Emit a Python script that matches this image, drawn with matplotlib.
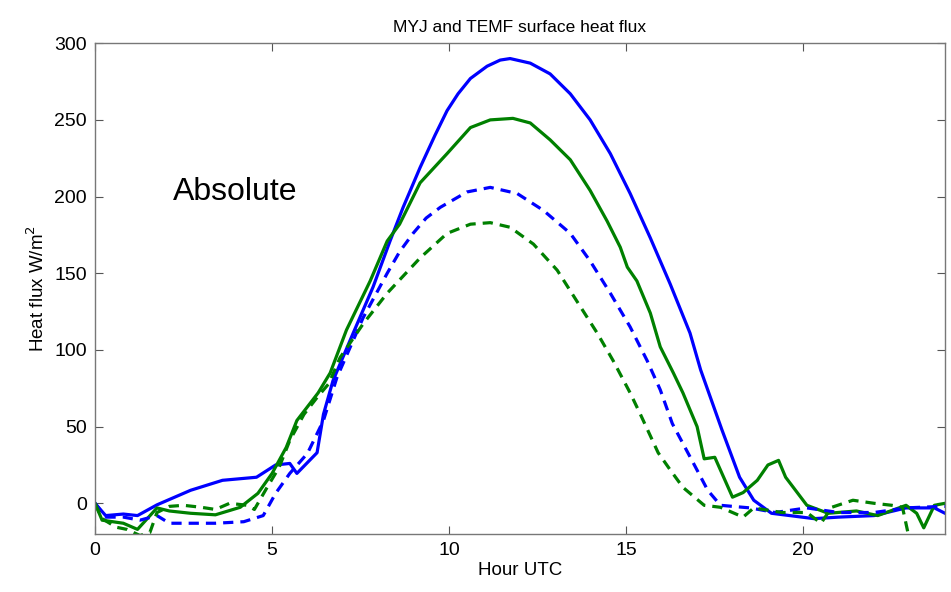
import matplotlib
matplotlib.use("Agg")
import matplotlib.pyplot as plt

plt.rcParams['font.family'] = ['Liberation Sans', 'DejaVu Sans']

# MYJ solid (blue)
myj_abs_h = [0, 0.3, 0.8, 1.2, 1.75, 2.7, 3.6, 4.56, 5.1, 5.5, 5.7, 6.27, 6.45, 6.72,
             7.29, 7.85, 8.33, 8.7, 9.18, 9.6, 9.94, 10.25, 10.6, 11.07, 11.44, 11.72,
             12.29, 12.85, 13.42, 13.98, 14.55, 15.11, 15.68, 16.24, 16.8, 17.1, 17.7,
             18.2, 18.6, 19.1, 20.3, 21.0, 22.0, 22.9, 23.7, 24.0]
myj_abs_v = [0, -8, -7, -8, -1, 8.5, 15, 17, 25, 26, 19.5, 33, 58, 80,
             111, 141, 171, 193, 219, 240, 256, 267, 277, 285, 289, 290,
             287, 280, 267, 250, 228, 202, 173, 143, 111, 87, 48,
             17, 2, -6.5, -10, -9, -8, -3, -3, -6.5]

# TEMF solid (green)
temf_abs_h = [0, 0.2, 0.8, 1.2, 1.75, 2.1, 2.7, 3.4, 4.1, 4.6, 5.0, 5.4, 5.7, 6.3, 6.64,
              7.1, 7.77, 8.25, 8.6, 9.18, 9.94, 10.6, 11.16, 11.8, 12.29, 12.85, 13.42,
              13.98, 14.46, 14.83, 15.03, 15.3, 15.68, 15.96, 16.33, 16.6, 17.0, 17.2,
              17.5, 18.0, 18.3, 18.7, 19.0, 19.3, 19.5, 20.1, 20.7, 21.5, 22.1, 22.9,
              23.2, 23.4, 23.7, 24.0]
temf_abs_v = [0, -11, -13, -17, -3, -5, -6.5, -7.5, -2.6, 6.5, 19.5, 36.5, 54, 72, 85,
              113, 145, 171, 182, 209, 228, 245, 250, 251, 248, 237, 224,
              204, 184, 167, 154, 145, 124, 102, 85, 72, 50, 29,
              30, 4, 7, 15, 25, 28, 17, -1.3, -6.5, -5, -8, -1.3,
              -6.5, -16, -1.3, 0]

# MYJ dashed (blue)
myj_rel_h = [0, 0.3, 0.8, 1.27, 1.75, 2.1, 2.7, 3.4, 4.2, 4.75, 5.1, 5.5, 6.0, 6.45,
             6.83, 7.57, 8.25, 8.6, 8.98, 9.35, 9.75, 10.5, 11.16, 11.92, 12.66, 13.42,
             13.98, 14.55, 15.11, 15.59, 15.96, 16.3, 16.9, 17.3, 17.66, 18.5, 19.2,
             20.1, 21.0, 22.0, 22.9, 23.9, 24.0]
myj_rel_v = [0, -9, -9, -11, -8, -13, -13, -13, -12, -8, 6.5, 19.5, 32.6, 54,
             82, 121, 150, 164, 176, 186, 193, 203, 206, 202, 191, 176,
             158, 137, 115, 93, 74, 52, 26, 8.5, -1.3, -3, -6,
             -3, -6, -6, -3, -2, -2]

# TEMF dashed (green)
temf_rel_h = [0, 0.2, 0.6, 0.9, 1.27, 1.55, 1.75, 2.1, 2.5, 3.0, 3.4, 3.8, 4.3, 4.5,
              4.85, 5.2, 5.5, 5.9, 6.27, 6.6, 6.92, 7.57, 8.25, 9.18, 9.94, 10.6, 11.16,
              11.72, 12.38, 13.05, 13.6, 14.18, 14.63, 15.11, 15.4, 15.9, 16.25, 16.6,
              17.2, 17.66, 18.0, 18.3, 18.6, 19.4, 20.1, 20.5, 20.8, 21.4, 22.0, 22.5,
              22.8, 23.1, 24.0]
temf_rel_v = [0, -10, -15.6, -17, -21, -19, -6, -2, -1.3, -2.6, -4, 0, -1.3, -4,
              10, 23.5, 41, 58, 69, 78, 95, 117, 137, 160, 176, 182, 183,
              180, 169, 152, 132, 111, 93, 72, 58, 33, 21.5, 10.4,
              -1.3, -2.6, -6, -9, -3, -6, -6, -13, -2.6, 2, 0, -1.3,
              -2.6, -35, -35]

xticks = [0, 5, 10, 15, 20]
yticks = [0, 50, 100, 150, 200, 250, 300]

fig = plt.figure(figsize=(9.51, 5.92), dpi=100)
ax = fig.add_axes([0.0999, 0.098, 0.8938, 0.829])

blue = (0, 0, 1)
green = (0, 0.5, 0)
lw = 2.3
ax.plot(myj_abs_h, myj_abs_v, color=blue, lw=lw)
ax.plot(temf_abs_h, temf_abs_v, color=green, lw=lw)
ax.plot(myj_rel_h, myj_rel_v, color=blue, lw=lw, ls=(0, (3.2, 2.2)))
ax.plot(temf_rel_h, temf_rel_v, color=green, lw=lw, ls=(0, (3.2, 2.2)))

ax.set_xlim(0, 24)
ax.set_ylim(-20, 300)
ax.set_xticks(xticks)
ax.set_yticks(yticks)
ax.tick_params(direction='in', top=True, right=True, labelsize=14, length=6,
               color='#555555', pad=6)
for s in ax.spines.values():
    s.set_color('#777777')
    s.set_linewidth(1.0)

ax.set_title('MYJ and TEMF surface heat flux', fontsize=12.5, pad=8)
ax.set_xlabel('Hour UTC', fontsize=13.5, labelpad=2)
ax.set_ylabel('Heat flux W/m$^2$', fontsize=13.5, labelpad=4)
ax.text(2.2, 203, 'Absolute', fontsize=23, va='center', ha='left')

fig.savefig('out.png', dpi=100)
